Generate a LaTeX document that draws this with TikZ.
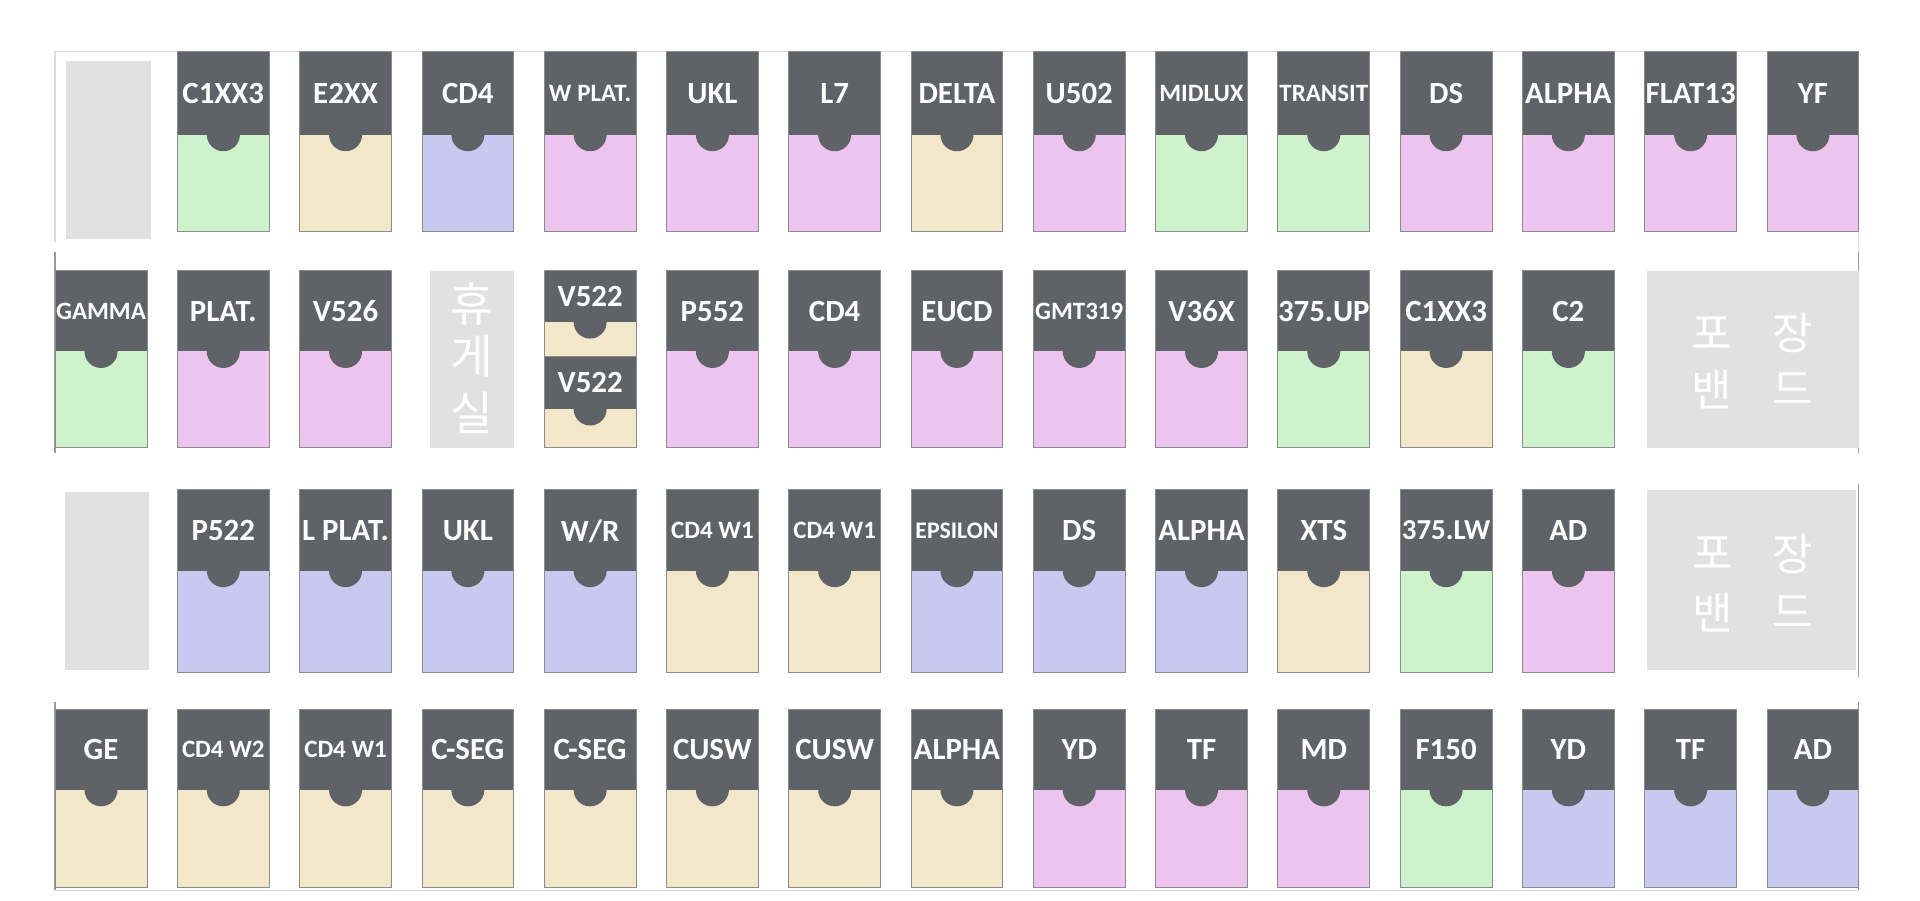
\documentclass[tikz,border=0pt]{standalone}
\usepackage{fontspec}
\setmainfont{Carlito}
\newfontfamily\lblfont{Carlito}
\newfontfamily\krfont{Noto Sans CJK KR}
\definecolor{hdr}{HTML}{5F6267}
\definecolor{cg}{HTML}{CEF2CC}
\definecolor{cb}{HTML}{F2E7C9}
\definecolor{cp}{HTML}{C9C8EE}
\definecolor{ck}{HTML}{EDC4EE}
\definecolor{ph}{HTML}{E1E1E1}
\definecolor{frl}{HTML}{DADADA}
\definecolor{frd}{HTML}{9A9A9A}
\tikzset{
  lbl/.style={text=white,font=\lblfont\bfseries\fontsize{12.6}{14}\selectfont,inner sep=0pt,text depth=0pt},
  mlbl/.style={lbl,font=\lblfont\bfseries\fontsize{11.8}{13}\selectfont},
  slbl/.style={lbl,font=\lblfont\bfseries\fontsize{10.2}{12}\selectfont},
  tlbl/.style={lbl,font=\lblfont\bfseries\fontsize{9.7}{11}\selectfont},
  edge/.style={draw=black!45,line width=0.35pt},
  kr/.style={text=white,font=\krfont\fontsize{19}{19}\selectfont,inner sep=0pt},
  krs/.style={kr,font=\krfont\fontsize{18}{18}\selectfont},
  frameline/.style={draw=frl,line width=0.5pt},
  framedark/.style={draw=frd,line width=0.5pt},
}
% #1 column, #2 top, #3 header bottom, #4 bottom, #5 colour, #6 label style, #7 label, #8 name
\newcommand\card[8]{%
  \pgfmathsetmacro\cxl{45+99.86*#1}%
  \fill[#5] (\cxl,#3) rectangle (\cxl+75,#4);
  \fill[hdr] (\cxl,#2) rectangle (\cxl+75,#3);
  \fill[hdr] (\cxl+24,#3-1) -- (\cxl+24,#3) arc[start angle=180,end angle=0,radius=13.5] -- (\cxl+51,#3-1) -- cycle;
  \draw[edge] (\cxl,#2) rectangle (\cxl+75,#4);
  \node[#6] (#8) at (\cxl+37.5,{(#2+#3)/2}) {#7};
}
\begin{document}
\begin{tikzpicture}[x=0.5pt,y=-0.5pt]
\useasboundingbox (0,0) rectangle (1568,735);
% frame
\draw[frameline] (45,42) -- (1518,42);
\draw[frameline] (45,727) -- (1518,727);
\draw[frameline] (45,42) -- (45,198);
\draw[framedark] (45,206) -- (45,370);
\draw[framedark] (45,573) -- (45,727);
\draw[frameline] (1518,188) -- (1518,206);
\draw[framedark] (1518,206) -- (1518,370);
\draw[framedark] (1518,395) -- (1518,553);
\draw[framedark] (1518,573) -- (1518,727);
% placeholders
\fill[ph] (54,50) rectangle (123,195);
\fill[ph] (53,402) rectangle (122,547);
\fill[ph] (351,221) rectangle (420,366);
\fill[ph] (1345,221) rectangle (1518,366);
\fill[ph] (1345,400) rectangle (1516,547);
\node[kr] (k1) at (385.5,248) {휴};
\node[kr] (k2) at (385.5,291) {게};
\node[kr] (k3) at (385.5,337) {실};
\node[krs] (p1) at (1398,272) {포};
\node[krs] (p2) at (1464,272) {장};
\node[krs] (p3) at (1398,318) {밴};
\node[krs] (p4) at (1464,318) {드};
\node[krs] (q1) at (1399,452) {포};
\node[krs] (q2) at (1464,452) {장};
\node[krs] (q3) at (1399,500) {밴};
\node[krs] (q4) at (1464,500) {드};
% row 1
\card{1}{42}{110}{189}{cg}{lbl}{C1XX3}{a1}
\card{2}{42}{110}{189}{cb}{lbl}{E2XX}{a2}
\card{3}{42}{110}{189}{cp}{lbl}{CD4}{a3}
\card{4}{42}{110}{189}{ck}{slbl}{W PLAT.}{a4}
\card{5}{42}{110}{189}{ck}{lbl}{UKL}{a5}
\card{6}{42}{110}{189}{ck}{lbl}{L7}{a6}
\card{7}{42}{110}{189}{cb}{lbl}{DELTA}{a7}
\card{8}{42}{110}{189}{ck}{lbl}{U502}{a8}
\card{9}{42}{110}{189}{cg}{slbl}{MIDLUX}{a9}
\card{10}{42}{110}{189}{cg}{slbl}{TRANSIT}{a10}
\card{11}{42}{110}{189}{ck}{lbl}{DS}{a11}
\card{12}{42}{110}{189}{ck}{lbl}{ALPHA}{a12}
\card{13}{42}{110}{189}{ck}{lbl}{FLAT13}{a13}
\card{14}{42}{110}{189}{ck}{lbl}{YF}{a14}
% row 2
\card{0}{221}{287}{365}{cg}{slbl}{GAMMA}{b0}
\card{1}{221}{287}{365}{ck}{lbl}{PLAT.}{b1}
\card{2}{221}{287}{365}{ck}{lbl}{V526}{b2}
\card{4}{221}{263}{291}{cb}{lbl}{V522}{b4a}
\card{4}{291}{334}{365}{cb}{lbl}{V522}{b4b}
\card{5}{221}{287}{365}{ck}{lbl}{P552}{b5}
\card{6}{221}{287}{365}{ck}{lbl}{CD4}{b6}
\card{7}{221}{287}{365}{ck}{lbl}{EUCD}{b7}
\card{8}{221}{287}{365}{ck}{slbl}{GMT319}{b8}
\card{9}{221}{287}{365}{ck}{lbl}{V36X}{b9}
\card{10}{221}{287}{365}{cg}{lbl}{375.UP}{b10}
\card{11}{221}{287}{365}{cb}{lbl}{C1XX3}{b11}
\card{12}{221}{287}{365}{cg}{lbl}{C2}{b12}
% row 3
\card{1}{400}{466}{549}{cp}{lbl}{P522}{c1}
\card{2}{400}{466}{549}{cp}{lbl}{L PLAT.}{c2}
\card{3}{400}{466}{549}{cp}{lbl}{UKL}{c3}
\card{4}{400}{466}{549}{cp}{lbl}{W/R}{c4}
\card{5}{400}{466}{549}{cb}{slbl}{CD4 W1}{c5}
\card{6}{400}{466}{549}{cb}{slbl}{CD4 W1}{c6}
\card{7}{400}{466}{549}{cp}{tlbl}{EPSILON}{c7}
\card{8}{400}{466}{549}{cp}{lbl}{DS}{c8}
\card{9}{400}{466}{549}{cp}{lbl}{ALPHA}{c9}
\card{10}{400}{466}{549}{cb}{lbl}{XTS}{c10}
\card{11}{400}{466}{549}{cg}{mlbl}{375.LW}{c11}
\card{12}{400}{466}{549}{ck}{lbl}{AD}{c12}
% row 4
\card{0}{579}{645}{725}{cb}{lbl}{GE}{d0}
\card{1}{579}{645}{725}{cb}{slbl}{CD4 W2}{d1}
\card{2}{579}{645}{725}{cb}{slbl}{CD4 W1}{d2}
\card{3}{579}{645}{725}{cb}{lbl}{C-SEG}{d3}
\card{4}{579}{645}{725}{cb}{lbl}{C-SEG}{d4}
\card{5}{579}{645}{725}{cb}{lbl}{CUSW}{d5}
\card{6}{579}{645}{725}{cb}{lbl}{CUSW}{d6}
\card{7}{579}{645}{725}{cb}{lbl}{ALPHA}{d7}
\card{8}{579}{645}{725}{ck}{lbl}{YD}{d8}
\card{9}{579}{645}{725}{ck}{lbl}{TF}{d9}
\card{10}{579}{645}{725}{ck}{lbl}{MD}{d10}
\card{11}{579}{645}{725}{cg}{lbl}{F150}{d11}
\card{12}{579}{645}{725}{cp}{lbl}{YD}{d12}
\card{13}{579}{645}{725}{cp}{lbl}{TF}{d13}
\card{14}{579}{645}{725}{cp}{lbl}{AD}{d14}
\end{tikzpicture}
\end{document}
